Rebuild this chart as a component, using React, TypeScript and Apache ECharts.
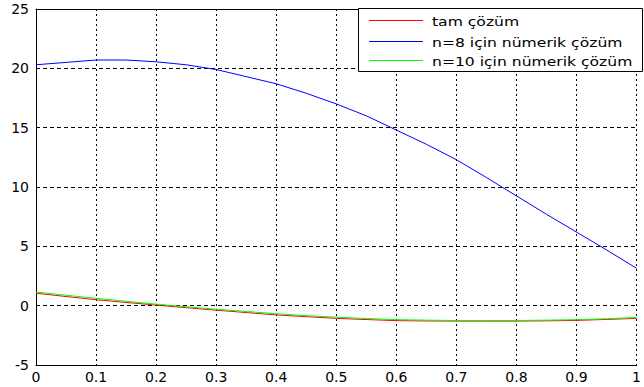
import React, { useEffect, useRef } from "react";
import * as echarts from "echarts";

const xValues = [0, 0.05, 0.1, 0.15, 0.2, 0.25, 0.3, 0.35, 0.4, 0.45, 0.5, 0.55, 0.6, 0.65, 0.7, 0.75, 0.8, 0.85, 0.9, 0.95, 1.0];
const exactValues = [1.05, 0.77, 0.5, 0.27, 0.05, -0.17, -0.38, -0.58, -0.78, -0.93, -1.07, -1.17, -1.26, -1.29, -1.3, -1.3, -1.3, -1.28, -1.24, -1.16, -1.07];
const n8Values = [20.3, 20.5, 20.7, 20.7, 20.55, 20.3, 19.9, 19.3, 18.7, 17.9, 17.0, 16.0, 14.8, 13.6, 12.3, 10.8, 9.25, 7.7, 6.2, 4.7, 3.15];
const n10Values = [1.15, 0.88, 0.62, 0.37, 0.13, -0.09, -0.3, -0.49, -0.68, -0.84, -0.97, -1.08, -1.18, -1.22, -1.25, -1.25, -1.25, -1.22, -1.18, -1.1, -1.0];
const seriesNames = ["tam çözüm", "n=8 için nümerik çözüm", "n=10 için nümerik çözüm"];
const seriesColors = ["#ff0000", "#0000ff", "#00ff00"];

export default function App() {
  const ref = useRef<HTMLDivElement>(null);
  useEffect(() => {
    if (!ref.current) return;
    const chart = echarts.init(ref.current, null, { renderer: "svg" });
    const allData = [exactValues, n8Values, n10Values];
    const font = "DejaVu Sans, Verdana, sans-serif";
    const rowY = [20, 41, 60];
    const legendGraphics: any[] = [
      {
        type: "rect",
        shape: { x: 358.5, y: 8.5, width: 284, height: 63 },
        style: { fill: "#ffffff", stroke: "#000000", lineWidth: 1 },
        z: 100,
      },
    ];
    seriesNames.forEach((name, i) => {
      legendGraphics.push({
        type: "line",
        shape: { x1: 369, y1: rowY[i] + 0.5, x2: 423, y2: rowY[i] + 0.5 },
        style: { stroke: seriesColors[i], lineWidth: 1 },
        z: 101,
      });
      legendGraphics.push({
        type: "text",
        x: 432,
        y: rowY[i] + 1,
        scaleX: 1.2,
        style: {
          text: name,
          fontFamily: font,
          fontSize: 13,
          fill: "#000000",
          textVerticalAlign: "middle",
          verticalAlign: "middle",
        },
        z: 101,
      });
    });
    chart.setOption({
      animation: false,
      backgroundColor: "#ffffff",
      grid: { left: 36, top: 9, width: 608, height: 356, containLabel: false },
      graphic: legendGraphics,
      xAxis: [
        {
          type: "value",
          min: 0,
          max: 1,
          interval: 0.1,
          axisLine: { show: true, onZero: false, lineStyle: { color: "#000", width: 1 } },
          axisTick: { show: false },
          axisLabel: {
            fontFamily: font,
            fontSize: 14,
            color: "#000",
            margin: 5,
            formatter: (v: number) => (v === 0 ? "0" : v === 1 ? "1" : String(Math.round(v * 10) / 10)),
          },
          splitLine: { show: true, lineStyle: { color: "#000", width: 1, type: [2, 3] } },
        },
        {
          type: "value",
          position: "top",
          min: 0,
          max: 1,
          axisLine: { show: true, onZero: false, lineStyle: { color: "#000", width: 1 } },
          axisTick: { show: false },
          axisLabel: { show: false },
          splitLine: { show: false },
        },
      ],
      yAxis: {
        type: "value",
        min: -5,
        max: 25,
        interval: 5,
        axisLine: { show: true, onZero: false, lineStyle: { color: "#000", width: 1 } },
        axisTick: { show: false },
        axisLabel: { fontFamily: font, fontSize: 14, color: "#000", margin: 7 },
        splitLine: { show: true, lineStyle: { color: "#000", width: 1, type: [4, 3] } },
      },
      series: seriesNames.map((name, i) => ({
        name,
        type: "line",
        xAxisIndex: 0,
        showSymbol: false,
        symbol: "none",
        color: seriesColors[i],
        lineStyle: { color: seriesColors[i], width: 1 },
        data: xValues.map((x, j) => [x, allData[i][j]]),
      })),
    });
    return () => chart.dispose();
  }, []);
  return <div ref={ref} style={{ position: "fixed", left: 0, top: 0, width: 644, height: 387 }} />;
}
